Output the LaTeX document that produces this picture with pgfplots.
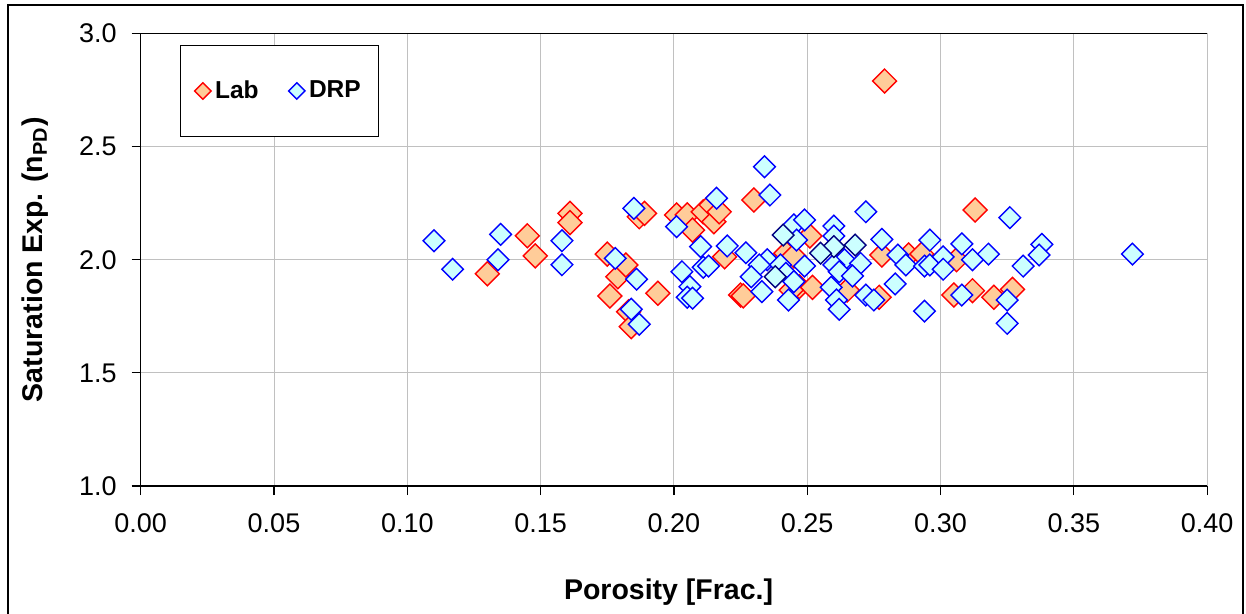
\documentclass[border=0pt]{standalone}
\usepackage{fontspec}
\setmainfont{Liberation Sans}
\usepackage{pgfplots}
\pgfplotsset{compat=1.18}

\definecolor{labfill}{RGB}{255,204,153}
\definecolor{labedge}{RGB}{255,0,0}
\definecolor{drpfill}{RGB}{204,255,255}
\definecolor{drpedge}{RGB}{0,0,255}
\definecolor{drpdark}{RGB}{0,0,128}
\definecolor{gridgray}{RGB}{192,192,192}

\begin{document}
\begin{tikzpicture}
\useasboundingbox (0,0) rectangle (623pt,-307pt);
\draw[line width=0.6pt] (4pt,-2.5pt) rectangle (621.5pt,-330pt);
\begin{axis}[
    at={(70.35pt,-16.75pt)}, anchor=north west,
    scale only axis, width=533.2pt, height=226.25pt,
    xmin=0, xmax=0.4, ymin=1, ymax=3,
    xtick={0,0.05,0.1,0.15,0.2,0.25,0.3,0.35,0.4},
    ytick={1,1.5,2,2.5,3},
    xticklabel style={yshift=-6pt, /pgf/number format/.cd,fixed,fixed zerofill,precision=2},
    yticklabel style={xshift=-4pt, /pgf/number format/.cd,fixed,fixed zerofill,precision=1},
    /pgf/number format/assume math mode=true,
    tick label style={font=\fontsize{13.5}{16}\selectfont},
    xtick pos=bottom, ytick pos=left,
    tick align=outside, major tick length=4.5pt,
    tick style={black, line width=0.6pt},
    xmajorgrids, ymajorgrids,
    grid style={gridgray, line width=0.5pt},
    axis line style={gridgray, line width=0.5pt},
    xlabel={Porosity [Frac.]},
    ylabel={Saturation Exp. (n\textsubscript{PD})},
    every axis x label/.style={at={(axis description cs:0.495,-0.234)}, anchor=center,
        font=\fontsize{14.25}{17}\selectfont\bfseries},
    every axis y label/.style={at={(axis description cs:-0.099,0.5)}, rotate=90, anchor=center,
        font=\fontsize{14.25}{17}\selectfont\bfseries},
    legend columns=2,
    legend image code/.code={\draw[#1] plot coordinates {(0pt,0pt)};},
    legend style={at={(axis description cs:0.0369,0.9746)}, anchor=north west,
        draw=black, line width=0.6pt, fill=white,
        inner xsep=7pt, inner ysep=15.5pt,
        font=\fontsize{12.25}{14}\selectfont\bfseries,
        /tikz/every even column/.append style={column sep=13pt}},
    clip=false,
]

\addplot[only marks, mark=square*, mark size=4.24pt,
    mark options={rotate=45, fill=labfill, draw=labedge, line width=0.7pt},
    legend image post style={mark size=2.9pt}]
    table {
x y
0.130 1.938
0.145 2.106
0.148 2.017
0.161 2.205
0.161 2.164
0.175 2.025
0.179 1.925
0.182 1.977
0.176 1.840
0.194 1.852
0.183 1.770
0.184 1.704
0.187 2.190
0.189 2.205
0.201 2.198
0.205 2.198
0.207 2.131
0.211 2.212
0.214 2.242
0.215 2.168
0.217 2.212
0.219 2.013
0.225 1.844
0.230 2.264
0.251 2.105
0.242 2.029
0.245 2.017
0.247 1.881
0.252 1.878
0.265 1.866
0.226 1.840
0.244 1.866
0.279 2.790
0.278 2.021
0.288 2.021
0.293 2.025
0.306 2.000
0.277 1.834
0.305 1.844
0.312 1.863
0.313 2.220
0.320 1.834
0.327 1.869
    };
\addlegendentry{Lab}

\addplot[only marks, mark=square*, mark size=3.83pt,
    mark options={rotate=45, fill=drpfill, draw=drpedge, line width=0.7pt},
    legend image post style={mark size=2.9pt}]
    table {
x y
0.110 2.084
0.117 1.958
0.135 2.112
0.134 2.000
0.158 2.084
0.158 1.978
0.185 2.227
0.178 2.006
0.186 1.914
0.184 1.781
0.187 1.715
0.201 2.146
0.216 2.272
0.210 2.058
0.220 2.061
0.203 1.947
0.211 1.967
0.213 1.972
0.206 1.881
0.205 1.834
0.207 1.830
0.234 2.411
0.236 2.286
0.272 2.212
0.245 2.154
0.249 2.176
0.246 2.087
0.260 2.149
0.260 2.105
0.278 2.090
0.227 2.031
0.235 2.000
0.264 2.000
0.270 1.984
0.232 1.977
0.240 1.977
0.249 1.972
0.242 1.940
0.229 1.925
0.260 1.977
0.262 1.947
0.267 1.928
0.245 1.903
0.259 1.878
0.233 1.859
0.243 1.822
0.261 1.822
0.262 1.781
0.272 1.844
0.275 1.822
0.284 2.021
0.287 1.977
0.296 2.087
0.294 1.972
0.296 1.977
0.301 2.013
0.301 1.958
0.308 2.070
0.312 2.000
0.283 1.893
0.294 1.773
0.308 1.844
0.326 2.186
0.318 2.025
0.331 1.972
0.338 2.068
0.337 2.021
0.372 2.025
0.325 1.822
0.325 1.719
    };
\addlegendentry{DRP}

\addplot[only marks, mark=square*, mark size=3.83pt, forget plot,
    mark options={rotate=45, fill=drpfill, draw=drpdark, line width=0.7pt}]
    table {
x y
0.241 2.109
0.238 1.925
0.268 2.065
0.260 2.058
0.255 2.029
    };

\draw[black, line width=0.6pt] (rel axis cs:1,1) -- (rel axis cs:0,1)
    -- (rel axis cs:0,0) -- (rel axis cs:1,0);
\end{axis}
\end{tikzpicture}
\end{document}
